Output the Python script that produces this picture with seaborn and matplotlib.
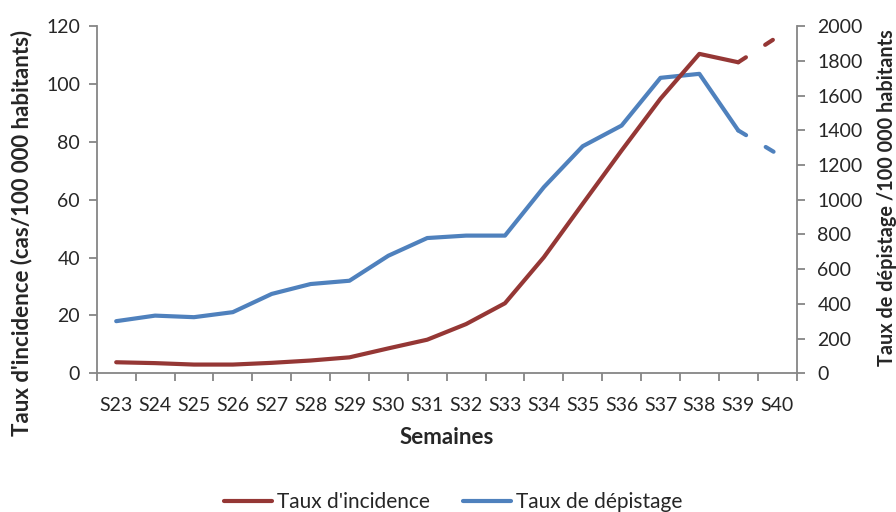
import matplotlib as mpl
mpl.use("Agg")

import matplotlib.pyplot as plt
import seaborn as sns
import pandas as pd
from matplotlib.lines import Line2D

sns.set_theme(style="white")
plt.rcParams["font.family"] = ["Lato", "DejaVu Sans"]

semaines = ["S23", "S24", "S25", "S26", "S27", "S28", "S29", "S30", "S31",
            "S32", "S33", "S34", "S35", "S36", "S37", "S38", "S39", "S40"]
incidence = [3.8, 3.5, 3.0, 3.0, 3.6, 4.4, 5.5, 8.6, 11.6,
             17.0, 24.2, 40.1, 58.6, 77.0, 94.9, 110.4, 107.5, 116.2]
depistage = [300, 332, 323, 352, 457, 514, 533, 677, 779,
             793, 793, 1072, 1308, 1427, 1702, 1725, 1399, 1264]

red = "#953735"
blue = "#4F81BD"
grey = "#868686"
txt = "#262626"

df = pd.DataFrame({
    "pos": range(len(semaines)),
    "semaine": semaines,
    "incidence": incidence,
    "depistage": depistage,
})
solid = df.iloc[:-1]
last = df.iloc[-2:]  # last week is provisional -> dashed

W, H = 896, 512
fig, ax = plt.subplots(figsize=(W / 100, H / 100), dpi=100)
fig.subplots_adjust(left=0.108, right=0.889, top=0.949, bottom=0.271)
ax2 = ax.twinx()

lw = 3.0
dash = (2.2, 5.5)

# testing rate (right axis)
sns.lineplot(ax=ax2, data=solid, x="pos", y="depistage", color=blue, lw=lw,
             solid_capstyle="round", solid_joinstyle="round")
sns.lineplot(ax=ax2, data=last, x="pos", y="depistage", color=blue, lw=lw,
             dashes=False, linestyle=(0, dash), dash_capstyle="round")

# incidence rate (left axis)
sns.lineplot(ax=ax, data=solid, x="pos", y="incidence", color=red, lw=lw,
             solid_capstyle="round", solid_joinstyle="round")
sns.lineplot(ax=ax, data=last, x="pos", y="incidence", color=red, lw=lw,
             dashes=False, linestyle=(0, dash), dash_capstyle="round")

ax.set_zorder(ax2.get_zorder() + 1)
ax.patch.set_visible(False)

n = len(semaines)
ax.set_xlim(-0.5, n - 0.5)
ax.set_xticks(range(n))
ax.set_xticklabels(semaines)
ax.set_xticks([i - 0.5 for i in range(n + 1)], minor=True)
ax.tick_params(axis="x", which="major", length=0, pad=17, labelsize=14,
               labelcolor=txt)
ax.tick_params(axis="x", which="minor", direction="out", length=6, width=1.3,
               color=grey, bottom=True)
ax.set_xlabel("")
ax2.set_xlabel("")

for a in (ax, ax2):
    for s in a.spines.values():
        s.set_visible(False)

ax.set_ylim(0, 120)
ax.set_yticks(range(0, 121, 20))
ax2.set_ylim(0, 2000)
ax2.set_yticks(range(0, 2001, 200))
ax.tick_params(axis="y", direction="out", length=6, width=1.3, color=grey,
               left=True, labelsize=14, labelcolor=txt, pad=6)
ax2.tick_params(axis="y", direction="out", length=6, width=1.3, color=grey,
                right=True, labelsize=14, labelcolor=txt, pad=9)
ax.set_ylabel("")
ax2.set_ylabel("")

for sp in ("left", "bottom"):
    ax.spines[sp].set_visible(True)
    ax.spines[sp].set_color(grey)
    ax.spines[sp].set_linewidth(1.3)
ax2.spines["right"].set_visible(True)
ax2.spines["right"].set_color(grey)
ax2.spines["right"].set_linewidth(1.3)

lab = dict(fontweight="bold", color=txt, ha="center", va="center")
fig.text(447 / W, 1 - 437 / H, "Semaines", fontsize=16, **lab)
fig.text(22 / W, 1 - 233 / H, "Taux d'incidence (cas/100 000 habitants)",
         rotation=90, fontsize=16, **lab)
fig.text(887 / W, 1 - 198 / H, "Taux de dépistage /100 000 habitants",
         rotation=90, fontsize=14.3, **lab)

handles = [Line2D([], [], color=red, lw=lw, solid_capstyle="round"),
           Line2D([], [], color=blue, lw=lw, solid_capstyle="round")]
fig.legend(handles, ["Taux d'incidence", "Taux de dépistage"],
           loc="lower center", bbox_to_anchor=(0.506, -0.037), ncol=2,
           frameon=False, fontsize=15, handlelength=2.3, handletextpad=0.25,
           columnspacing=1.6, labelcolor=txt)

fig.savefig("out.png", dpi=100)
